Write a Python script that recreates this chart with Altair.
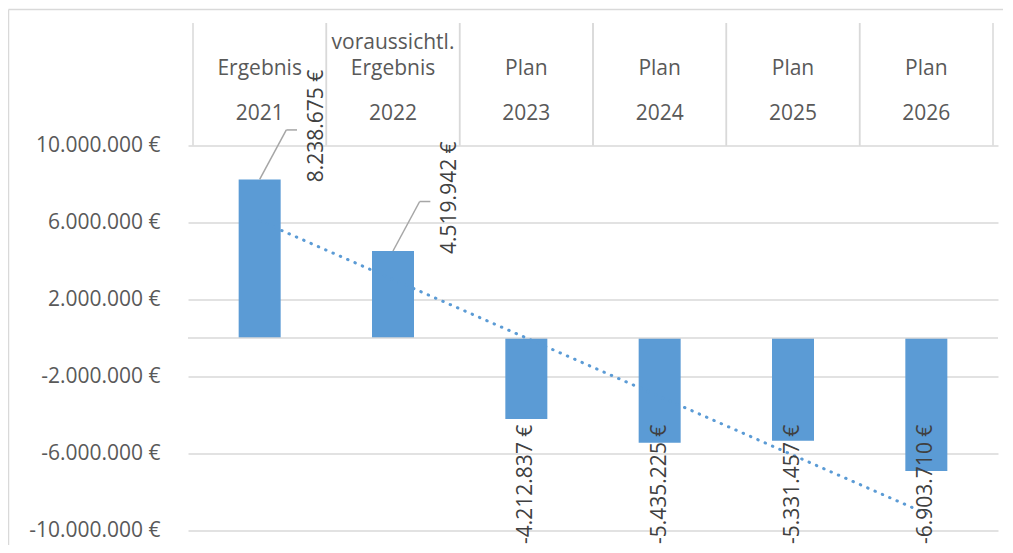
import altair as alt
import pandas as pd

# ---- data ----
idx = [1, 2, 3, 4, 5, 6]
header_line1 = ["", "voraussichtl.", "", "", "", ""]
header_line2 = ["Ergebnis", "Ergebnis", "Plan", "Plan", "Plan", "Plan"]
years = ["2021", "2022", "2023", "2024", "2025", "2026"]
values = [8238675, 4519942, -4212837, -5435225, -5331457, -6903710]
tick_values = [-10000000, -6000000, -2000000, 2000000, 6000000, 10000000]


def fmt_eur(v):
    return f"{v:,}".replace(",", ".") + " €"


df = pd.DataFrame({
    "idx": idx,
    "line1": header_line1,
    "line2": header_line2,
    "year": years,
    "value": values,
    "label": [fmt_eur(v) for v in values],
})

W, H = 810, 385
BLUE = "#5b9bd5"
GRID = "#d9d9d9"
TXT = "#595959"
FONT = "Open Sans"

xs = alt.Scale(domain=[0.5, 6.5], nice=False, zero=False)
ys = alt.Scale(domain=[-10000000, 10000000], nice=False, zero=False)

yaxis = alt.Axis(
    values=tick_values,
    title=None,
    ticks=False,
    domain=False,
    grid=True,
    gridColor=GRID,
    gridWidth=1.5,
    labelFont=FONT,
    labelFontSize=21,
    labelColor=TXT,
    labelPadding=28,
    labelExpr="replace(replace(format(datum.value, ','), regexp(',', 'g'), '.'), '\u2212', '-') + ' €'",
)


def Y(field):
    return alt.Y(field, scale=ys, axis=yaxis)


def X(field):
    return alt.X(field, scale=xs, axis=None)


base = alt.Chart(df)

# outer chart border (top and left edges)
one = pd.DataFrame({"a": [0]})
border_top = alt.Chart(one).mark_rule(color=GRID, strokeWidth=1.5).encode(
    x=alt.value(-179.5), x2=alt.value(W + 20), y=alt.value(-136)
)
border_left = alt.Chart(one).mark_rule(color=GRID, strokeWidth=1.5).encode(
    x=alt.value(-179.5), y=alt.value(-136), y2=alt.value(H + 30)
)

# category table separators
sep_left = base.transform_calculate(left="datum.idx - 0.5").mark_rule(color=GRID, strokeWidth=1.5).encode(
    x=X("left:Q"), y=alt.value(-122.5), y2=alt.value(0)
)
sep_right = base.transform_calculate(right="datum.idx + 0.5").mark_rule(color=GRID, strokeWidth=1.5).encode(
    x=X("right:Q"), y=alt.value(-122.5), y2=alt.value(0)
)

# zero line
zero = alt.Chart(pd.DataFrame({"z": [0]})).mark_rule(color=GRID, strokeWidth=1.5).encode(
    y=Y("z:Q")
)

# linear trend line
trend = base.transform_regression("idx", "value", method="linear", extent=[1, 6]).mark_line(
    color=BLUE, strokeWidth=3, strokeDash=[0.5, 7.5], strokeCap="round"
).encode(x=X("idx:Q"), y=Y("value:Q"))

bars = base.mark_bar(color=BLUE, size=42).encode(x=X("idx:Q"), y=Y("value:Q"))

pos = base.transform_filter("datum.value > 0").transform_calculate(
    x1="datum.idx + 0.2", x2="datum.idx + 0.28", yl="datum.value + 2570000"
)
leader_diag = pos.mark_rule(color="#a6a6a6", strokeWidth=1.5).encode(
    x=X("idx:Q"), x2="x1:Q", y=Y("value:Q"), y2="yl:Q",
)
leader_h = pos.mark_rule(color="#a6a6a6", strokeWidth=1.5).encode(
    x=X("x1:Q"), x2="x2:Q", y=Y("yl:Q"),
)

labels = base.transform_calculate(
    lx="datum.value > 0 ? datum.idx + 0.43 : datum.idx",
    ly="datum.value > 0 ? datum.value + 2770000 : -7600000",
).mark_text(
    angle=270, align="center", baseline="middle", font=FONT, fontSize=21, color="#404040"
).encode(x=X("lx:Q"), y=Y("ly:Q"), text="label:N")

hdr_style = dict(align="center", baseline="middle", font=FONT, fontSize=21, color=TXT)
hdr1 = base.mark_text(**hdr_style).encode(x=X("idx:Q"), y=alt.value(-102.5), text="line1:N")
hdr2 = base.mark_text(**hdr_style).encode(x=X("idx:Q"), y=alt.value(-76.5), text="line2:N")
hdr3 = base.mark_text(**hdr_style).encode(x=X("idx:Q"), y=alt.value(-31.5), text="year:N")

chart = alt.layer(
    bars, border_top, border_left, sep_left, sep_right, zero, trend,
    leader_diag, leader_h, labels, hdr1, hdr2, hdr3,
).properties(
    width=W,
    height=H,
    autosize=alt.AutoSizeParams(type="none"),
    padding={"left": 180, "top": 137.5, "right": 5, "bottom": 14},
    background="white",
).configure(font=FONT).configure_view(strokeWidth=0, stroke=None)

chart.save("out.html", embed_options={"renderer": "svg", "actions": False})
